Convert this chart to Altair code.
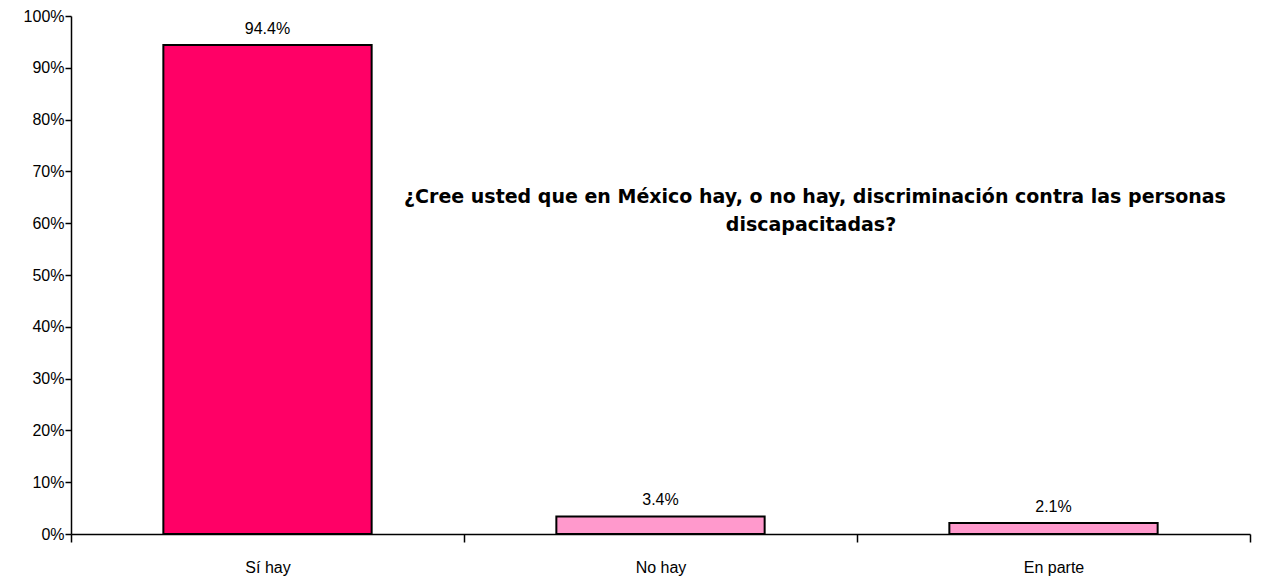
import altair as alt
import pandas as pd

categories = ["Sí hay", "No hay", "En parte"]
values = [94.4, 3.4, 2.1]
labels = ["94.4%", "3.4%", "2.1%"]
colors = ["#FF0066", "#FF99CC", "#FF99CC"]
title_lines = ["¿Cree usted que en México hay, o no hay, discriminación contra las personas",
               "discapacitadas?"]

df = pd.DataFrame({"cat": categories, "val": values, "lab": labels, "col": colors})
FONT = "Liberation Sans"

x = alt.X("cat:N", sort=categories, title=None,
          scale=alt.Scale(paddingInner=0, paddingOuter=0),
          axis=alt.Axis(labelAngle=0, labelFontSize=16, labelFont=FONT, labelColor="black",
                        labelPadding=17, tickBand="extent", tickSize=8, tickColor="black",
                        tickWidth=1.5, domainColor="black", domainWidth=1.5))
y = alt.Y("val:Q", title=None,
          scale=alt.Scale(domain=[0, 100], nice=False),
          axis=alt.Axis(values=list(range(0, 101, 10)), labelExpr="datum.value + '%'",
                        labelFontSize=16, labelFont=FONT, labelColor="black", labelPadding=1,
                        tickSize=6, tickColor="black", tickWidth=1.5, domainColor="black",
                        domainWidth=1.5, grid=False))

bars = alt.Chart(df).mark_bar(stroke="black", strokeWidth=2,
                              width=alt.RelativeBandSize(0.53)).encode(
    x=x, y=y, color=alt.Color("col:N", scale=None))

text = alt.Chart(df).mark_text(baseline="bottom", dy=-8, fontSize=16, font=FONT, color="black").encode(
    x=alt.X("cat:N", sort=categories), y="val:Q", text="lab:N")

tdf = pd.DataFrame({"t": title_lines, "i": [0, 1]})
t1 = alt.Chart(tdf[tdf.i == 0]).mark_text(fontSize=19, fontWeight="bold", font="DejaVu Sans",
                                           color="black", align="center", baseline="middle").encode(
    x=alt.value(744), y=alt.value(181), text="t:N")
t2 = alt.Chart(tdf[tdf.i == 1]).mark_text(fontSize=19, fontWeight="bold", font="DejaVu Sans",
                                           color="black", align="center", baseline="middle").encode(
    x=alt.value(740), y=alt.value(209), text="t:N")

chart = alt.layer(bars, text, t1, t2).properties(
    width=1179, height=518,
    autosize=alt.AutoSizeParams(type="none"),
    padding={"left": 63, "top": 8, "right": 10, "bottom": 49},
).configure_view(stroke=None)

chart.save("out.html", embed_options={"renderer": "svg", "actions": False})
